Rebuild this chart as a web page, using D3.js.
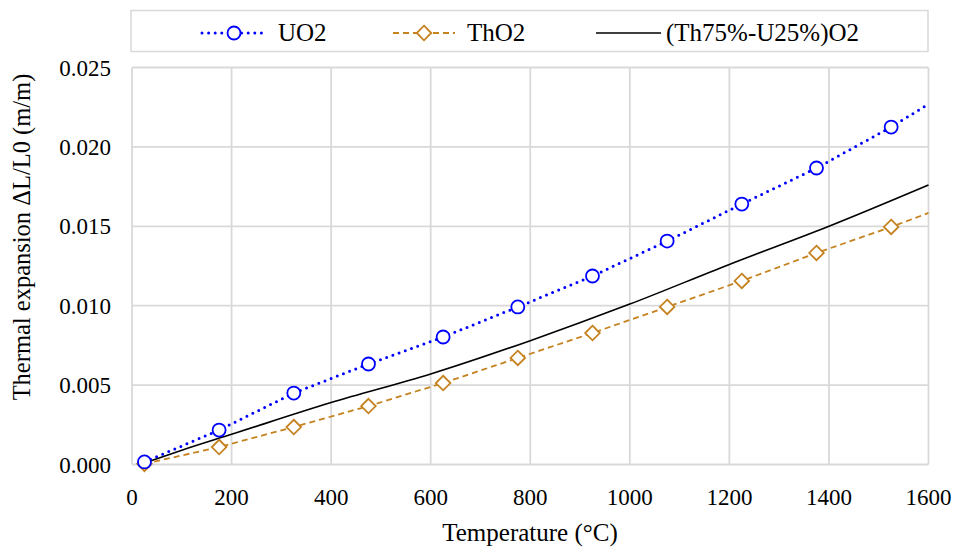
<!DOCTYPE html>
<html>
<head>
<meta charset="utf-8">
<script src="https://cdn.jsdelivr.net/npm/d3@7"></script>
<style>
  body { margin: 0; background: #fff; }
  text { font-family: "Liberation Serif", "Times New Roman", serif; }
</style>
</head>
<body>
<svg id="chart" width="956" height="547"></svg>
<script>
// temperatures (°C) where the markers sit
var temps = [25, 175, 325, 475, 625, 775, 925, 1075, 1225, 1375, 1525, 1600];
var uo2 = [0.00016, 0.00217, 0.00450, 0.00633, 0.00803, 0.00992, 0.01187, 0.01407, 0.01640, 0.01867, 0.02125, 0.02270];
var tho2 = [0.00004, 0.00110, 0.00236, 0.00368, 0.00513, 0.00671, 0.00828, 0.00992, 0.01156, 0.01332, 0.01496, 0.01584];
// mixed oxide curve
var mixTemps = [25, 100, 200, 400, 600, 800, 1000, 1200, 1400, 1600];
var mix = [0.0001, 0.0009, 0.0019, 0.0039, 0.0057, 0.0078, 0.0101, 0.0126, 0.0150, 0.0176];
var xTicks = [0, 200, 400, 600, 800, 1000, 1200, 1400, 1600];
var yTicks = [0, 0.005, 0.010, 0.015, 0.020, 0.025];

var svg = d3.select("#chart");
var x = d3.scaleLinear().domain([0, 1600]).range([132, 928.5]);
var y = d3.scaleLinear().domain([0, 0.025]).range([464.5, 67.5]);

var grid = "#d9d9d9";

// grid lines
svg.selectAll(".gx").data(xTicks).enter().append("line")
  .attr("x1", d => x(d)).attr("x2", d => x(d))
  .attr("y1", y(0)).attr("y2", y(0.025))
  .attr("stroke", grid).attr("stroke-width", 1.8);
svg.selectAll(".gy").data(yTicks).enter().append("line")
  .attr("x1", x(0)).attr("x2", x(1600))
  .attr("y1", d => y(d)).attr("y2", d => y(d))
  .attr("stroke", grid).attr("stroke-width", 1.8);

// tick labels
svg.selectAll(".tx").data(xTicks).enter().append("text")
  .attr("x", d => x(d)).attr("y", 505)
  .attr("text-anchor", "middle").attr("font-size", 23)
  .text(d => d);
svg.selectAll(".ty").data(yTicks).enter().append("text")
  .attr("x", 111).attr("y", d => y(d) + 8)
  .attr("text-anchor", "end").attr("font-size", 23)
  .text(d => d3.format(".3f")(d));

// axis titles
svg.append("text").attr("x", 530).attr("y", 541)
  .attr("text-anchor", "middle").attr("font-size", 25)
  .text("Temperature (°C)");
svg.append("text").attr("transform", "translate(30,237) rotate(-90)")
  .attr("text-anchor", "middle").attr("font-size", 24.5)
  .text("Thermal expansion ΔL/L0  (m/m)");

var line = d3.line().x(d => x(d[0])).y(d => y(d[1]));
var uoPts = temps.map((t, i) => [t, uo2[i]]);
var thPts = temps.map((t, i) => [t, tho2[i]]);
var mixPts = mixTemps.map((t, i) => [t, mix[i]]);

var blue = "#0000ff", orange = "#c5821f";

svg.append("path").attr("d", line.curve(d3.curveMonotoneX)(mixPts))
  .attr("fill", "none").attr("stroke", "#000").attr("stroke-width", 1.6);
svg.append("path").attr("d", d3.line().x(d => x(d[0])).y(d => y(d[1]))(thPts))
  .attr("fill", "none").attr("stroke", orange).attr("stroke-width", 1.8)
  .attr("stroke-dasharray", "6,4");
svg.append("path").attr("d", d3.line().x(d => x(d[0])).y(d => y(d[1]))(uoPts))
  .attr("fill", "none").attr("stroke", blue).attr("stroke-width", 3)
  .attr("stroke-dasharray", "0,6.6").attr("stroke-linecap", "round");

// markers (not at the 1600 end point)
var diamond = d3.symbol().type(d3.symbolDiamond2).size(135);
svg.selectAll(".dm").data(thPts.slice(0, 11)).enter().append("path")
  .attr("d", diamond)
  .attr("transform", d => "translate(" + x(d[0]) + "," + y(d[1]) + ")")
  .attr("fill", "#fff").attr("stroke", orange).attr("stroke-width", 1.8);
svg.selectAll(".cm").data(uoPts.slice(0, 11)).enter().append("circle")
  .attr("cx", d => x(d[0])).attr("cy", d => y(d[1])).attr("r", 6.5)
  .attr("fill", "#fff").attr("stroke", blue).attr("stroke-width", 1.8);

// legend
svg.append("rect").attr("x", 131).attr("y", 10.5).attr("width", 797).attr("height", 41)
  .attr("fill", "#fff").attr("stroke", grid).attr("stroke-width", 1.5);
var ly = 33;
svg.append("line").attr("x1", 202).attr("x2", 264).attr("y1", ly).attr("y2", ly)
  .attr("stroke", blue).attr("stroke-width", 3)
  .attr("stroke-dasharray", "0,6.6").attr("stroke-linecap", "round");
svg.append("circle").attr("cx", 234).attr("cy", ly).attr("r", 6.5)
  .attr("fill", "#fff").attr("stroke", blue).attr("stroke-width", 1.8);
svg.append("text").attr("x", 278).attr("y", ly + 8).attr("font-size", 25).text("UO2");
svg.append("line").attr("x1", 393).attr("x2", 455).attr("y1", ly).attr("y2", ly)
  .attr("stroke", orange).attr("stroke-width", 1.8).attr("stroke-dasharray", "6,4");
svg.append("path").attr("d", diamond).attr("transform", "translate(424," + ly + ")")
  .attr("fill", "#fff").attr("stroke", orange).attr("stroke-width", 1.8);
svg.append("text").attr("x", 467).attr("y", ly + 8).attr("font-size", 25).text("ThO2");
svg.append("line").attr("x1", 596).attr("x2", 661).attr("y1", ly).attr("y2", ly)
  .attr("stroke", "#000").attr("stroke-width", 1.6);
svg.append("text").attr("x", 666).attr("y", ly + 8).attr("font-size", 25).text("(Th75%-U25%)O2");
</script>
</body>
</html>
